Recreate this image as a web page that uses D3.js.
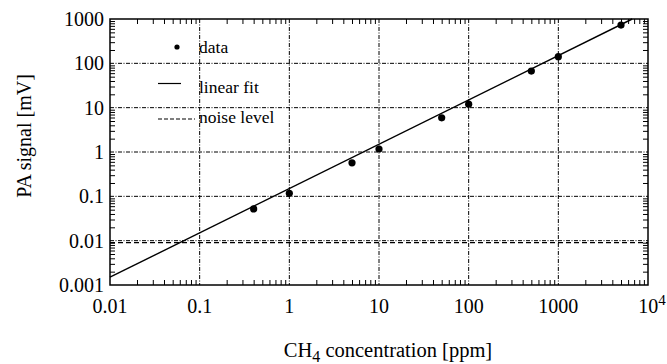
<!DOCTYPE html>
<meta charset="utf-8">
<body style="margin:0">
<svg width="667" height="364"></svg>
<script src="https://d3js.org/d3.v7.min.js"></script>
<script>
// measured CH4 concentrations [ppm] and PA signal [mV]
var concentration = [0.4, 1, 5, 10, 50, 100, 500, 1000, 5000];
var signal = [0.052, 0.117, 0.57, 1.17, 5.9, 12, 67, 141, 730];

// linear fit end points and noise level
var fitLine = [[0.01, 0.0015], [6667, 1000]];
var noiseLine = [[0.01, 0.009], [10000, 0.009]];

var xTicks = [0.01, 0.1, 1, 10, 100, 1000, 10000];
var xTickLabels = ['0.01', '0.1', '1', '10', '100', '1000', ''];
var yTicks = [0.001, 0.01, 0.1, 1, 10, 100, 1000];
var yTickLabels = ['0.001', '0.01', '0.1', '1', '10', '100', '1000'];

var W = 667, H = 364;
var margin = {left: 110, top: 19, right: 19, bottom: 79};
var width = W - margin.left - margin.right;
var height = H - margin.top - margin.bottom;
var serif = "'Liberation Serif'";

var svg = d3.select('svg');
var g = svg.append('g').attr('transform', 'translate(' + margin.left + ',' + margin.top + ')');

var x = d3.scaleLog().domain([0.01, 10000]).range([0, width]);
var y = d3.scaleLog().domain([0.001, 1000]).range([height, 0]);

// minor tick values (2..9 per decade)
function minors(lo, hi) {
  var out = [];
  for (var e = lo; e < hi; e++) {
    for (var k = 2; k <= 9; k++) out.push(k * Math.pow(10, e));
  }
  return out;
}
var xMinor = minors(-2, 4);
var yMinor = minors(-3, 3);

// grid
var grid = g.append('g').attr('stroke', '#000').attr('stroke-width', 1)
  .attr('stroke-dasharray', '4,1.5,1,1.5');
grid.selectAll('.gx').data(xTicks.slice(1, -1)).enter().append('line')
  .attr('x1', x).attr('x2', x).attr('y1', 0).attr('y2', height);
grid.selectAll('.gy').data(yTicks.slice(1, -1)).enter().append('line')
  .attr('y1', y).attr('y2', y).attr('x1', 0).attr('x2', width);

// inner tick marks on all four sides
function tickSide(axis, scale, vals, size, tr) {
  g.append('g').attr('transform', tr || null)
    .call(axis(scale).tickValues(vals).tickSize(size).tickFormat(''))
    .call(function (s) { s.select('.domain').remove(); });
}
tickSide(d3.axisBottom, x, xMinor, -5, 'translate(0,' + height + ')');
tickSide(d3.axisTop, x, xMinor, -5);
tickSide(d3.axisLeft, y, yMinor, -5);
tickSide(d3.axisRight, y, yMinor, -5, 'translate(' + width + ',0)');

// tick labels
g.append('g').selectAll('text').data(xTicks).enter().append('text')
  .attr('x', function (d) { return x(d); }).attr('y', height + 28)
  .attr('text-anchor', 'middle').attr('font-family', serif).attr('font-size', 20)
  .text(function (d, i) { return xTickLabels[i]; });

// 10^4 label with superscript
var last = g.append('text').attr('x', x(10000) + 4).attr('y', height + 28)
  .attr('text-anchor', 'middle').attr('font-family', serif).attr('font-size', 20);
last.append('tspan').text('10');
last.append('tspan').attr('dy', -8).attr('font-size', 15).text('4');

g.append('g').selectAll('text').data(yTicks).enter().append('text')
  .attr('x', -6).attr('y', function (d) { return y(d); }).attr('dy', '0.35em')
  .attr('text-anchor', 'end').attr('font-family', serif).attr('font-size', 20)
  .text(function (d, i) { return yTickLabels[i]; });

// frame
g.append('rect').attr('width', width).attr('height', height)
  .attr('fill', 'none').attr('stroke', '#000').attr('stroke-width', 1.5);

var line = d3.line().x(function (d) { return x(d[0]); }).y(function (d) { return y(d[1]); });

g.append('path').datum(noiseLine).attr('d', line)
  .attr('fill', 'none').attr('stroke', '#000').attr('stroke-width', 1.2)
  .attr('stroke-dasharray', '5,3');

g.append('path').datum(fitLine).attr('d', line)
  .attr('fill', 'none').attr('stroke', '#000').attr('stroke-width', 1.4);

g.selectAll('.pt').data(concentration).enter().append('circle')
  .attr('cx', function (d) { return x(d); })
  .attr('cy', function (d, i) { return y(signal[i]); })
  .attr('r', 3.6).attr('fill', '#000');

// legend
var lg = svg.append('g');
lg.append('circle').attr('cx', 177).attr('cy', 47).attr('r', 2.6).attr('fill', '#000');
lg.append('line').attr('x1', 158).attr('x2', 181).attr('y1', 83.5).attr('y2', 83.5)
  .attr('stroke', '#000').attr('stroke-width', 1.2);
lg.append('line').attr('x1', 158).attr('x2', 195).attr('y1', 119).attr('y2', 119)
  .attr('stroke', '#000').attr('stroke-width', 1.2).attr('stroke-dasharray', '4,2');
[['data', 53], ['linear fit', 93], ['noise level', 123]].forEach(function (t) {
  lg.append('text').attr('x', 199).attr('y', t[1])
    .attr('font-family', serif).attr('font-size', 17.5).text(t[0]);
});

// axis titles
svg.append('text').attr('transform', 'translate(31,136) rotate(-90)')
  .attr('text-anchor', 'middle').attr('font-family', serif).attr('font-size', 20).text('PA signal [mV]');
var xt = svg.append('text').attr('x', 388).attr('y', 357)
  .attr('text-anchor', 'middle').attr('font-family', serif).attr('font-size', 20.5);
xt.append('tspan').text('CH');
xt.append('tspan').attr('dy', 5).attr('font-size', 16).text('4');
xt.append('tspan').attr('dy', -5).text(' concentration [ppm]');
</script>
